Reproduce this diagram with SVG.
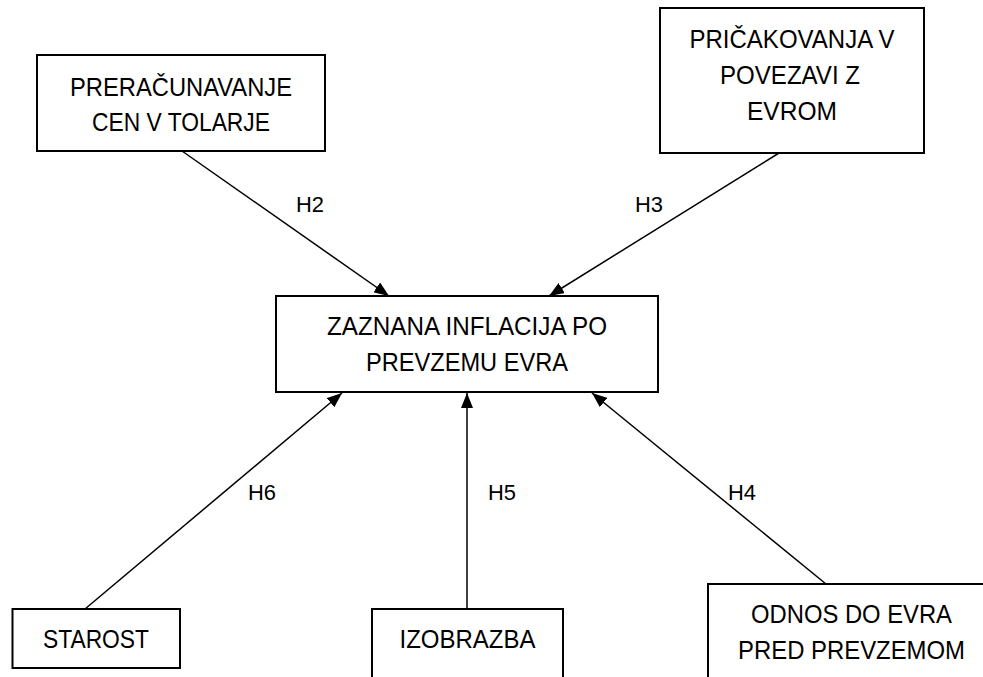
<svg xmlns="http://www.w3.org/2000/svg" width="983" height="677" viewBox="0 0 983 677">
<style>
.box{fill:#fff;stroke:#000;stroke-width:2}
.t{font-family:"Liberation Sans",Arial,sans-serif;font-size:26px;fill:#000;text-anchor:middle}
.lbl{font-family:"Liberation Sans",Arial,sans-serif;font-size:22.5px;fill:#000;text-anchor:middle}
.edge{stroke:#000;stroke-width:1.5;fill:none;marker-end:url(#arr)}
</style>
<defs>
<marker id="arr" viewBox="0 0 15 12" refX="15" refY="6" markerWidth="15" markerHeight="12" markerUnits="userSpaceOnUse" orient="auto">
<path d="M0,0 L15,6 L0,12 z" fill="#000"/>
</marker>
</defs>
<rect width="983" height="677" fill="#fff"/>
<g id="edges">
<line class="edge" x1="182" y1="151" x2="389" y2="296"/>
<line class="edge" x1="779" y1="153" x2="549" y2="296"/>
<line class="edge" x1="85" y1="609" x2="342" y2="393"/>
<line class="edge" x1="467" y1="609" x2="467" y2="393"/>
<line class="edge" x1="826" y1="584" x2="592" y2="393"/>
<text class="lbl" x="310" y="212" textLength="28" lengthAdjust="spacingAndGlyphs">H2</text>
<text class="lbl" x="649" y="212" textLength="28" lengthAdjust="spacingAndGlyphs">H3</text>
<text class="lbl" x="262" y="500" textLength="28" lengthAdjust="spacingAndGlyphs">H6</text>
<text class="lbl" x="502" y="500" textLength="28" lengthAdjust="spacingAndGlyphs">H5</text>
<text class="lbl" x="742" y="500" textLength="28" lengthAdjust="spacingAndGlyphs">H4</text>
</g>
<g id="n_preracunavanje">
<rect class="box" x="37" y="55" width="288" height="96"/>
<text class="t" x="181" y="96" textLength="222" lengthAdjust="spacingAndGlyphs">PRERAČUNAVANJE</text>
<text class="t" x="181" y="131" textLength="178" lengthAdjust="spacingAndGlyphs">CEN V TOLARJE</text>
</g>
<g id="n_pricakovanja">
<rect class="box" x="660" y="8" width="264" height="145"/>
<text class="t" x="792" y="48" textLength="205" lengthAdjust="spacingAndGlyphs">PRIČAKOVANJA V</text>
<text class="t" x="790" y="84" textLength="140" lengthAdjust="spacingAndGlyphs">POVEZAVI Z</text>
<text class="t" x="792" y="120" textLength="90" lengthAdjust="spacingAndGlyphs">EVROM</text>
</g>
<g id="n_zaznana">
<rect class="box" x="276" y="296" width="382" height="96"/>
<text class="t" x="467" y="335" textLength="280" lengthAdjust="spacingAndGlyphs">ZAZNANA INFLACIJA PO</text>
<text class="t" x="467" y="371" textLength="202" lengthAdjust="spacingAndGlyphs">PREVZEMU EVRA</text>
</g>
<g id="n_starost">
<rect class="box" x="12.5" y="609" width="167.5" height="59"/>
<text class="t" x="96" y="648" textLength="106" lengthAdjust="spacingAndGlyphs">STAROST</text>
</g>
<g id="n_izobrazba">
<rect class="box" x="372" y="609" width="191" height="80"/>
<text class="t" x="467.5" y="648" textLength="136" lengthAdjust="spacingAndGlyphs">IZOBRAZBA</text>
</g>
<g id="n_odnos">
<rect class="box" x="708" y="584" width="287" height="110"/>
<text class="t" x="851.5" y="623" textLength="201" lengthAdjust="spacingAndGlyphs">ODNOS DO EVRA</text>
<text class="t" x="851.5" y="659" textLength="227" lengthAdjust="spacingAndGlyphs">PRED PREVZEMOM</text>
</g>
</svg>
